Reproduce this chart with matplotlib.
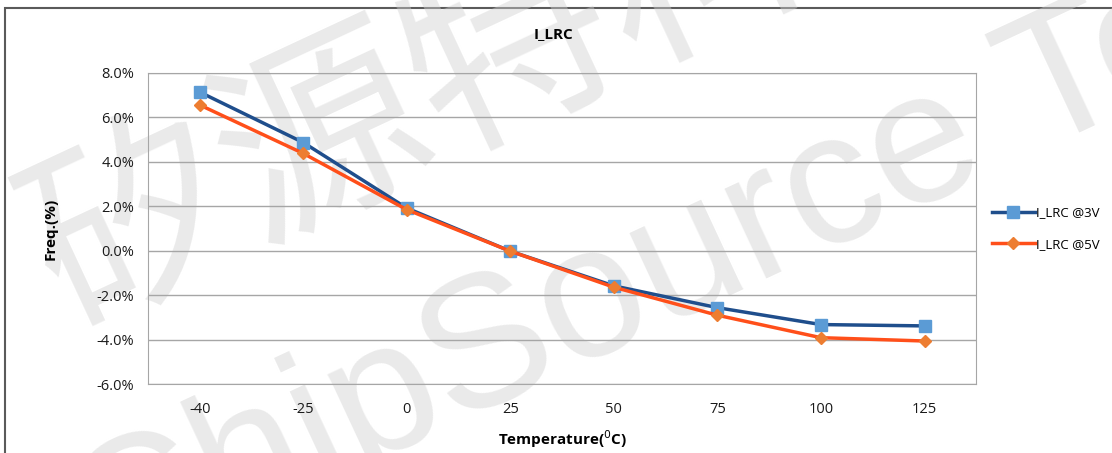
import numpy as np
import matplotlib
matplotlib.use('Agg')
import matplotlib.pyplot as plt
from matplotlib.patches import Rectangle

# data
temps = ['-40', '-25', '0', '25', '50', '75', '100', '125']
freq_3v = [7.14, 4.87, 1.92, -0.02, -1.58, -2.56, -3.32, -3.38]
freq_5v = [6.56, 4.38, 1.85, -0.02, -1.64, -2.90, -3.91, -4.06]
yticks = [-6, -4, -2, 0, 2, 4, 6, 8]

plt.rcParams['font.family'] = ['Open Sans', 'DejaVu Sans']

fig = plt.figure(figsize=(11.12, 4.53), dpi=100)
ax = fig.add_axes([0.133, 0.152, 0.745, 0.687])
ax.set_facecolor('none')
ax.set_zorder(2)

# outer chart border (only top and left visible in the crop)
fig.patches.append(Rectangle((5 / 1112, -0.1), 1.2, 1.1 - 8 / 453,
                             transform=fig.transFigure, fill=False,
                             edgecolor='#5a5a5a', linewidth=1.5, zorder=0))

# watermark
fig.text(0.037, 0.395, '矽源特科', rotation=25, rotation_mode='anchor',
         ha='left', va='center', fontsize=150, color='#d0d0d0', alpha=0.45,
         family=['Noto Sans CJK SC', 'DejaVu Sans'], zorder=0)
fig.text(0.075, -0.20, 'ChipSource Tech', rotation=25, rotation_mode='anchor',
         ha='left', va='center', fontsize=135, color='#d0d0d0', alpha=0.45,
         family=['Liberation Sans'], zorder=0)

x = np.arange(len(temps))
ax.plot(x, freq_3v, color='#1f4e8c', lw=2.5, marker='s', ms=8,
        mfc='#5b9bd5', mec='#5b9bd5', label='I_LRC @3V', zorder=3)
ax.plot(x, freq_5v, color='#ff4f1a', lw=2.5, marker='D', ms=6,
        mfc='#ed7d31', mec='#ed7d31', label='I_LRC @5V', zorder=4)

ax.set_xlim(-0.5, len(temps) - 0.5)
ax.set_ylim(-6, 8)
ax.set_xticks(x)
ax.set_xticklabels(temps)
ax.set_yticks(yticks)
ax.set_yticklabels(['{:.1f}%'.format(v) for v in yticks])
ax.tick_params(length=0, labelsize=10.5, colors='#1a1a1a', pad=10)
ax.tick_params(axis='x', pad=13)
ax.grid(axis='y', color='#a6a6a6', lw=1)
for s in ax.spines.values():
    s.set_color('#a6a6a6')

ax.set_xlabel('Temperature($^0$C)', fontsize=11, fontweight='bold', labelpad=8)
ax.set_ylabel('Freq.(%)', fontsize=11, fontweight='bold', labelpad=28)
ax.set_title('I_LRC', fontsize=11, fontweight='bold', pad=25, x=0.49)

ax.legend(loc='center left', bbox_to_anchor=(1.005, 0.5), frameon=False,
          fontsize=9.5, handlelength=3.2, handletextpad=0.1, labelspacing=1.4)

fig.savefig('out.png', dpi=100)
